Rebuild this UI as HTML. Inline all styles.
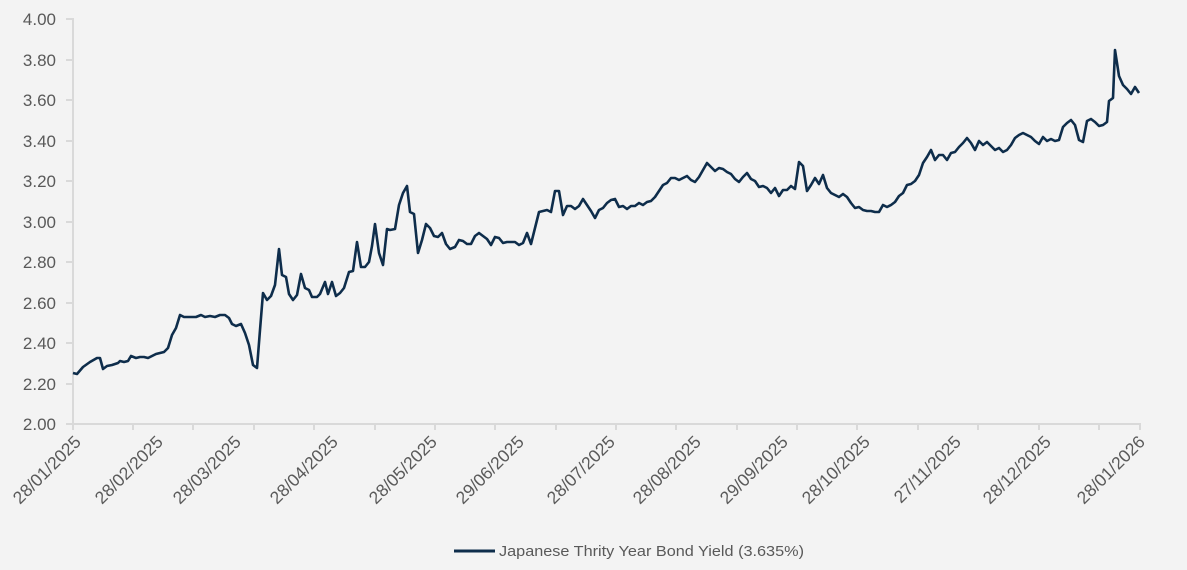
<!DOCTYPE html>
<html><head><meta charset="utf-8"><style>
html,body{margin:0;padding:0;background:#f3f3f3;}
svg{display:block;font-family:"Liberation Sans",sans-serif;}
</style></head><body>
<svg width="1187" height="570" viewBox="0 0 1187 570">
<rect x="0" y="0" width="1187" height="570" fill="#f3f3f3"/>
<g fill="#595959" font-size="17" text-anchor="end">
<text x="56" y="430">2.00</text>
<text x="56" y="390">2.20</text>
<text x="56" y="349">2.40</text>
<text x="56" y="309">2.60</text>
<text x="56" y="268">2.80</text>
<text x="56" y="228">3.00</text>
<text x="56" y="187">3.20</text>
<text x="56" y="147">3.40</text>
<text x="56" y="106">3.60</text>
<text x="56" y="66">3.80</text>
<text x="56" y="25">4.00</text>
</g>
<g stroke="#d9d9d9" stroke-width="2">
<line x1="73" y1="18" x2="73" y2="430"/>
<line x1="66" y1="424" x2="1141" y2="424"/>
<line x1="66" y1="19" x2="73" y2="19"/>
<line x1="66" y1="60" x2="73" y2="60"/>
<line x1="66" y1="100" x2="73" y2="100"/>
<line x1="66" y1="141" x2="73" y2="141"/>
<line x1="66" y1="181" x2="73" y2="181"/>
<line x1="66" y1="222" x2="73" y2="222"/>
<line x1="66" y1="262" x2="73" y2="262"/>
<line x1="66" y1="303" x2="73" y2="303"/>
<line x1="66" y1="343" x2="73" y2="343"/>
<line x1="66" y1="384" x2="73" y2="384"/>
<line x1="66" y1="424" x2="73" y2="424"/>
<line x1="133" y1="424" x2="133" y2="430"/>
<line x1="193" y1="424" x2="193" y2="430"/>
<line x1="254" y1="424" x2="254" y2="430"/>
<line x1="314" y1="424" x2="314" y2="430"/>
<line x1="375" y1="424" x2="375" y2="430"/>
<line x1="435" y1="424" x2="435" y2="430"/>
<line x1="495" y1="424" x2="495" y2="430"/>
<line x1="556" y1="424" x2="556" y2="430"/>
<line x1="616" y1="424" x2="616" y2="430"/>
<line x1="676" y1="424" x2="676" y2="430"/>
<line x1="737" y1="424" x2="737" y2="430"/>
<line x1="797" y1="424" x2="797" y2="430"/>
<line x1="857" y1="424" x2="857" y2="430"/>
<line x1="918" y1="424" x2="918" y2="430"/>
<line x1="978" y1="424" x2="978" y2="430"/>
<line x1="1039" y1="424" x2="1039" y2="430"/>
<line x1="1099" y1="424" x2="1099" y2="430"/>
<line x1="1140" y1="424" x2="1140" y2="430"/>
</g>
<g fill="#595959" font-size="17.5" text-anchor="end">
<text transform="translate(82,443) rotate(-45)">28/01/2025</text>
<text transform="translate(164,443) rotate(-45)">28/02/2025</text>
<text transform="translate(242,443) rotate(-45)">28/03/2025</text>
<text transform="translate(339,443) rotate(-45)">28/04/2025</text>
<text transform="translate(438,443) rotate(-45)">28/05/2025</text>
<text transform="translate(525,443) rotate(-45)">29/06/2025</text>
<text transform="translate(616,443) rotate(-45)">28/07/2025</text>
<text transform="translate(702,443) rotate(-45)">28/08/2025</text>
<text transform="translate(789,443) rotate(-45)">29/09/2025</text>
<text transform="translate(871,443) rotate(-45)">28/10/2025</text>
<text transform="translate(962,443) rotate(-45)">27/11/2025</text>
<text transform="translate(1052,443) rotate(-45)">28/12/2025</text>
<text transform="translate(1146,443) rotate(-45)">28/01/2026</text>
</g>
<polyline fill="none" stroke="#0e2d4b" stroke-width="2.6" stroke-linejoin="round" points="73,373 77,374 83,367 90,362 97,358 100,358 103,369 107,366 112,365 118,363 120,361 124,362 128,361 131,356 136,358 140,357 144,357 148,358 152,356 156,354 160,353 164,352 168,348 172,335 176,328 180,315 184,317 190,317 196,317 201,315 205,317 210,316 215,317 220,315 225,315 229,318 232,324 236,326 241,324 245,333 249,345 253,365 257,368 260,330 263,293 267,300 271,296 275,285 279,249 282,275 286,277 289,294 293,300 297,295 301,274 305,288 309,290 312,297 317,297 320,294 325,282 328,294 332,282 336,296 340,293 344,288 349,272 353,271 357,242 361,267 365,267 369,262 372,246 375,224 379,253 383,265 387,229 390,230 395,229 399,205 403,193 407,186 410,212 414,214 418,253 422,240 426,224 430,228 434,236 438,237 442,233 446,244 450,249 455,247 459,240 463,241 467,244 471,244 475,236 479,233 483,236 487,239 491,245 495,237 499,238 503,243 507,242 511,242 515,242 519,245 523,243 527,233 531,244 535,228 539,212 543,211 547,210 551,212 555,191 559,191 563,215 567,206 571,206 575,209 579,206 583,199 587,205 591,211 595,218 599,210 603,208 607,203 611,200 615,199 619,207 623,206 627,209 631,206 635,206 639,203 643,205 647,202 651,201 655,197 659,191 663,185 667,183 671,178 675,178 679,180 683,178 687,176 691,180 695,182 699,177 703,170 707,163 711,167 715,171 719,168 723,169 727,172 731,174 735,179 739,182 743,177 747,173 751,179 755,181 759,187 763,186 767,188 771,193 775,188 779,196 783,190 787,190 791,186 795,189 799,162 803,166 807,191 811,185 815,178 819,184 823,175 827,188 831,193 835,195 839,197 843,194 847,197 851,203 855,208 859,207 863,210 867,211 871,211 875,212 879,212 883,205 887,207 891,205 895,202 899,196 903,193 907,185 911,184 915,181 919,175 923,163 927,157 931,150 935,160 939,155 943,155 947,160 951,153 955,152 959,147 963,143 967,138 971,143 975,150 979,141 983,145 987,142 991,146 995,150 999,148 1003,152 1007,150 1011,145 1015,138 1019,135 1023,133 1027,135 1031,137 1035,141 1039,144 1043,137 1047,141 1051,139 1055,141 1059,140 1063,127 1067,123 1071,120 1075,125 1079,140 1083,142 1087,121 1091,119 1095,122 1099,126 1103,125 1107,122 1109,101 1113,98 1115,50 1119,76 1123,85 1127,89 1131,94 1135,87 1139,93"/>
<line x1="454" y1="551" x2="495" y2="551" stroke="#0e2d4b" stroke-width="3"/>
<text x="499" y="556" fill="#595959" font-size="14.5" textLength="305" lengthAdjust="spacingAndGlyphs">Japanese Thrity Year Bond Yield (3.635%)</text>
</svg>
</body></html>
